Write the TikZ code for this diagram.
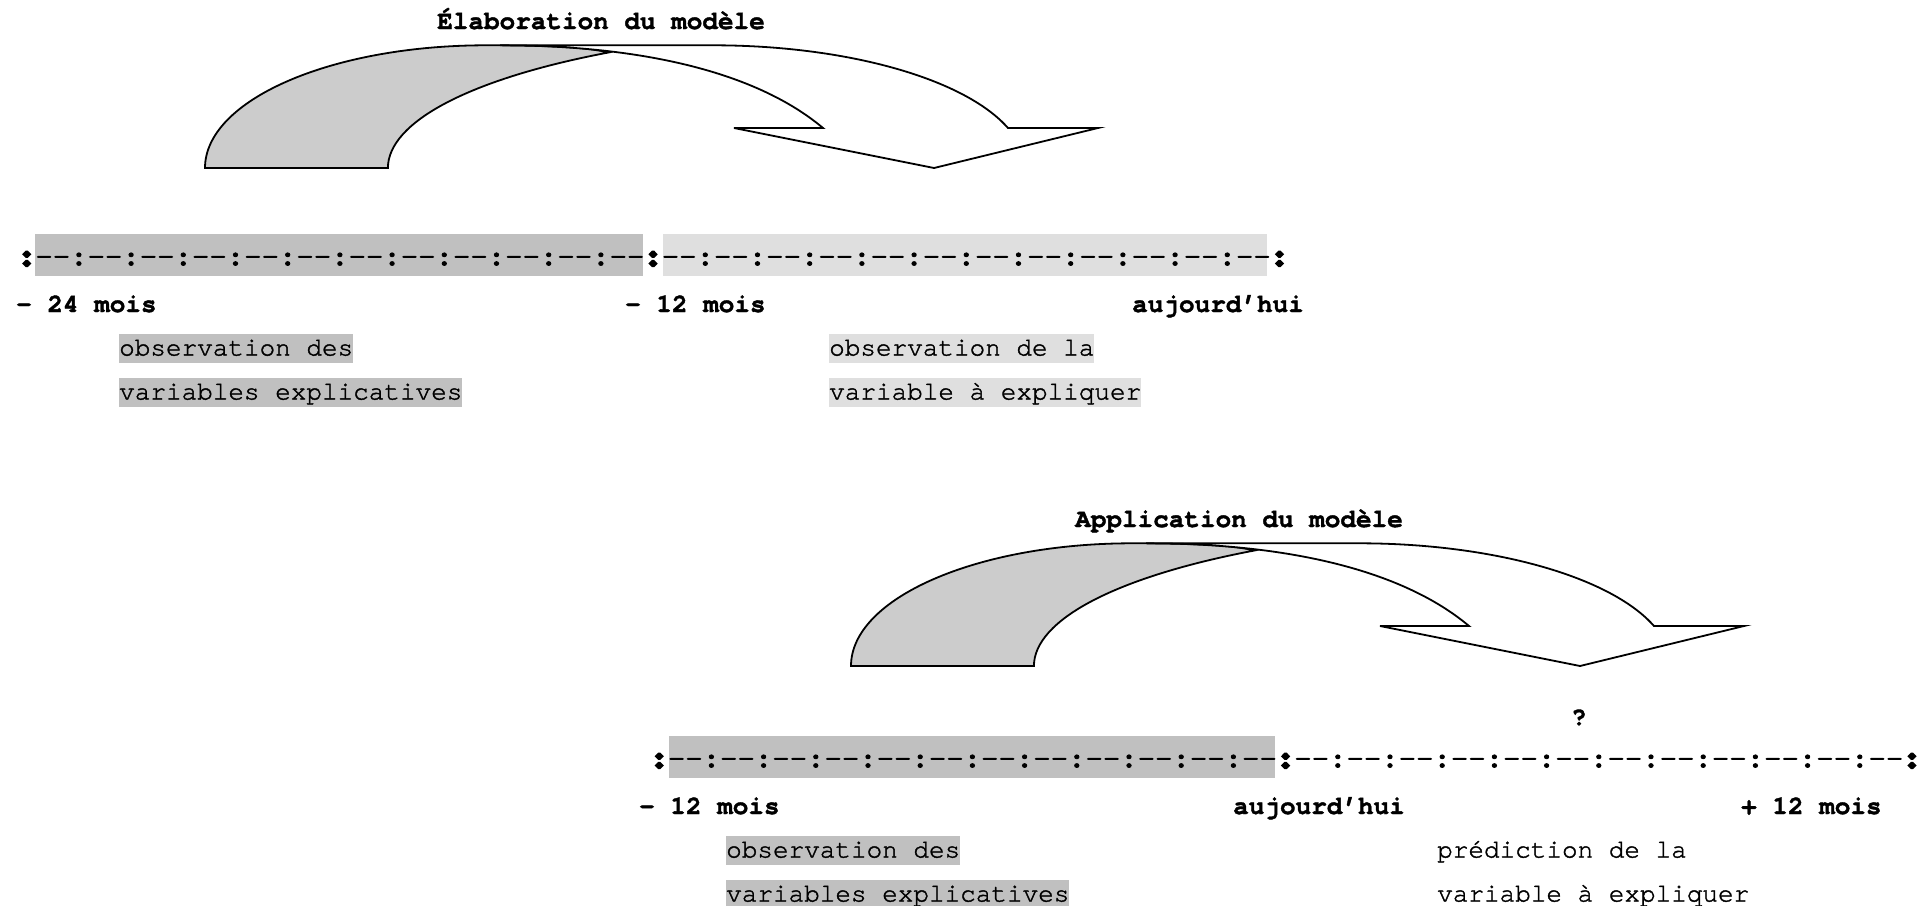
\documentclass[tikz,border=0pt]{standalone}
\usepackage{fontspec}
\newfontfamily\cur{TeX Gyre Cursor}[FakeBold=1.5]
\newfontfamily\tlf{TeX Gyre Cursor}[FakeBold=3]
\newfontfamily\colf{texgyrecursor-bold.otf}[FakeBold=12]
\definecolor{colDark}{HTML}{C0C0C0}
\definecolor{colLight}{HTML}{DFDFDF}
\definecolor{arrowGray}{HTML}{CCCCCC}
\newcommand\dd{-\kern0pt-\kern0pt}
\newcommand\tlrun{\dd:\dd:\dd:\dd:\dd:\dd:\dd:\dd:\dd:\dd:\dd:\dd}
\newcommand\bcol{{\colf:}}
\tikzset{
  lbl/.style={font=\cur\bfseries\fontsize{26}{31}\selectfont, anchor=base west, inner sep=0pt},
  txt/.style={font=\cur\fontsize{26}{31}\selectfont, anchor=base west, inner sep=0pt, text height=21.7pt, text depth=7.8pt},
  hldark/.style={txt, fill=colDark},
  hllight/.style={txt, fill=colLight},
  tline/.style={font=\tlf\fontsize{29}{35}\selectfont, anchor=base west, inner sep=0pt},
  arrowline/.style={draw=black, line width=1.8pt, line join=miter},
  curvarrow/.pic={
    \filldraw[arrowline, fill=arrowGray] (205,168)
      arc[start angle=180, end angle=270, x radius=281, y radius=122.7]
      .. controls (560,45.3) and (590,48) .. (608.5,52.5)
      arc[start angle=235.6, end angle=180, x radius=507, y radius=140] -- cycle;
    \filldraw[arrowline, fill=white] (500,45.3) -- (713,45.3)
      arc[start angle=270, end angle=341, x radius=312, y radius=122.7]
      -- (1098,128) -- (934,168) -- (734,128) -- (823,128)
      .. controls (760,75) and (650,45.3) .. (500,45.3) -- cycle;
  }
}
\begin{document}
\begin{tikzpicture}[x=1pt, y=-1pt]
\useasboundingbox (0,0) rectangle (1921,905);
% ---------- upper part ----------
\node[lbl] (title1) at (437,29) {Élaboration du modèle};
\pic at (0,0) {curvarrow};
\fill[colDark] (35.2,234) rectangle (643,276);
\fill[colLight] (662.5,234) rectangle (1267,276);
\node[tline] (tl1) at (17.8,265) {\bcol\tlrun\bcol\tlrun\bcol};
\node[lbl] (m24) at (16,312) {- 24 mois};
\node[lbl] (m12a) at (625,312) {- 12 mois};
\node[lbl] (auj1) at (1132,312) {aujourd’hui};
\node[hldark] (obs1) at (119,355.5) {observation des};
\node[hldark] (var1) at (119,399.5) {variables explicatives};
\node[hllight] (obs2) at (829,355.5) {observation de la};
\node[hllight] (var2) at (829,399.5) {variable à expliquer};
% ---------- lower part ----------
\node[lbl] (title2) at (1075,527) {Application du modèle};
\pic at (646,498) {curvarrow};
\node[lbl] (q) at (1571,725) {?};
\fill[colDark] (669,736) rectangle (1275,778);
\node[tline] (tl2) at (650.3,767) {\bcol\tlrun\bcol\tlrun\bcol};
\node[lbl] (m12b) at (639,814) {- 12 mois};
\node[lbl] (auj2) at (1233,814) {aujourd’hui};
\node[lbl] (p12) at (1741,814) {+ 12 mois};
\node[hldark] (obs3) at (726,857.5) {observation des};
\node[hldark] (var3) at (726,901.5) {variables explicatives};
\node[txt] (pred) at (1437,857.5) {prédiction de la};
\node[txt] (var4) at (1437,901.5) {variable à expliquer};
\end{tikzpicture}
\end{document}
